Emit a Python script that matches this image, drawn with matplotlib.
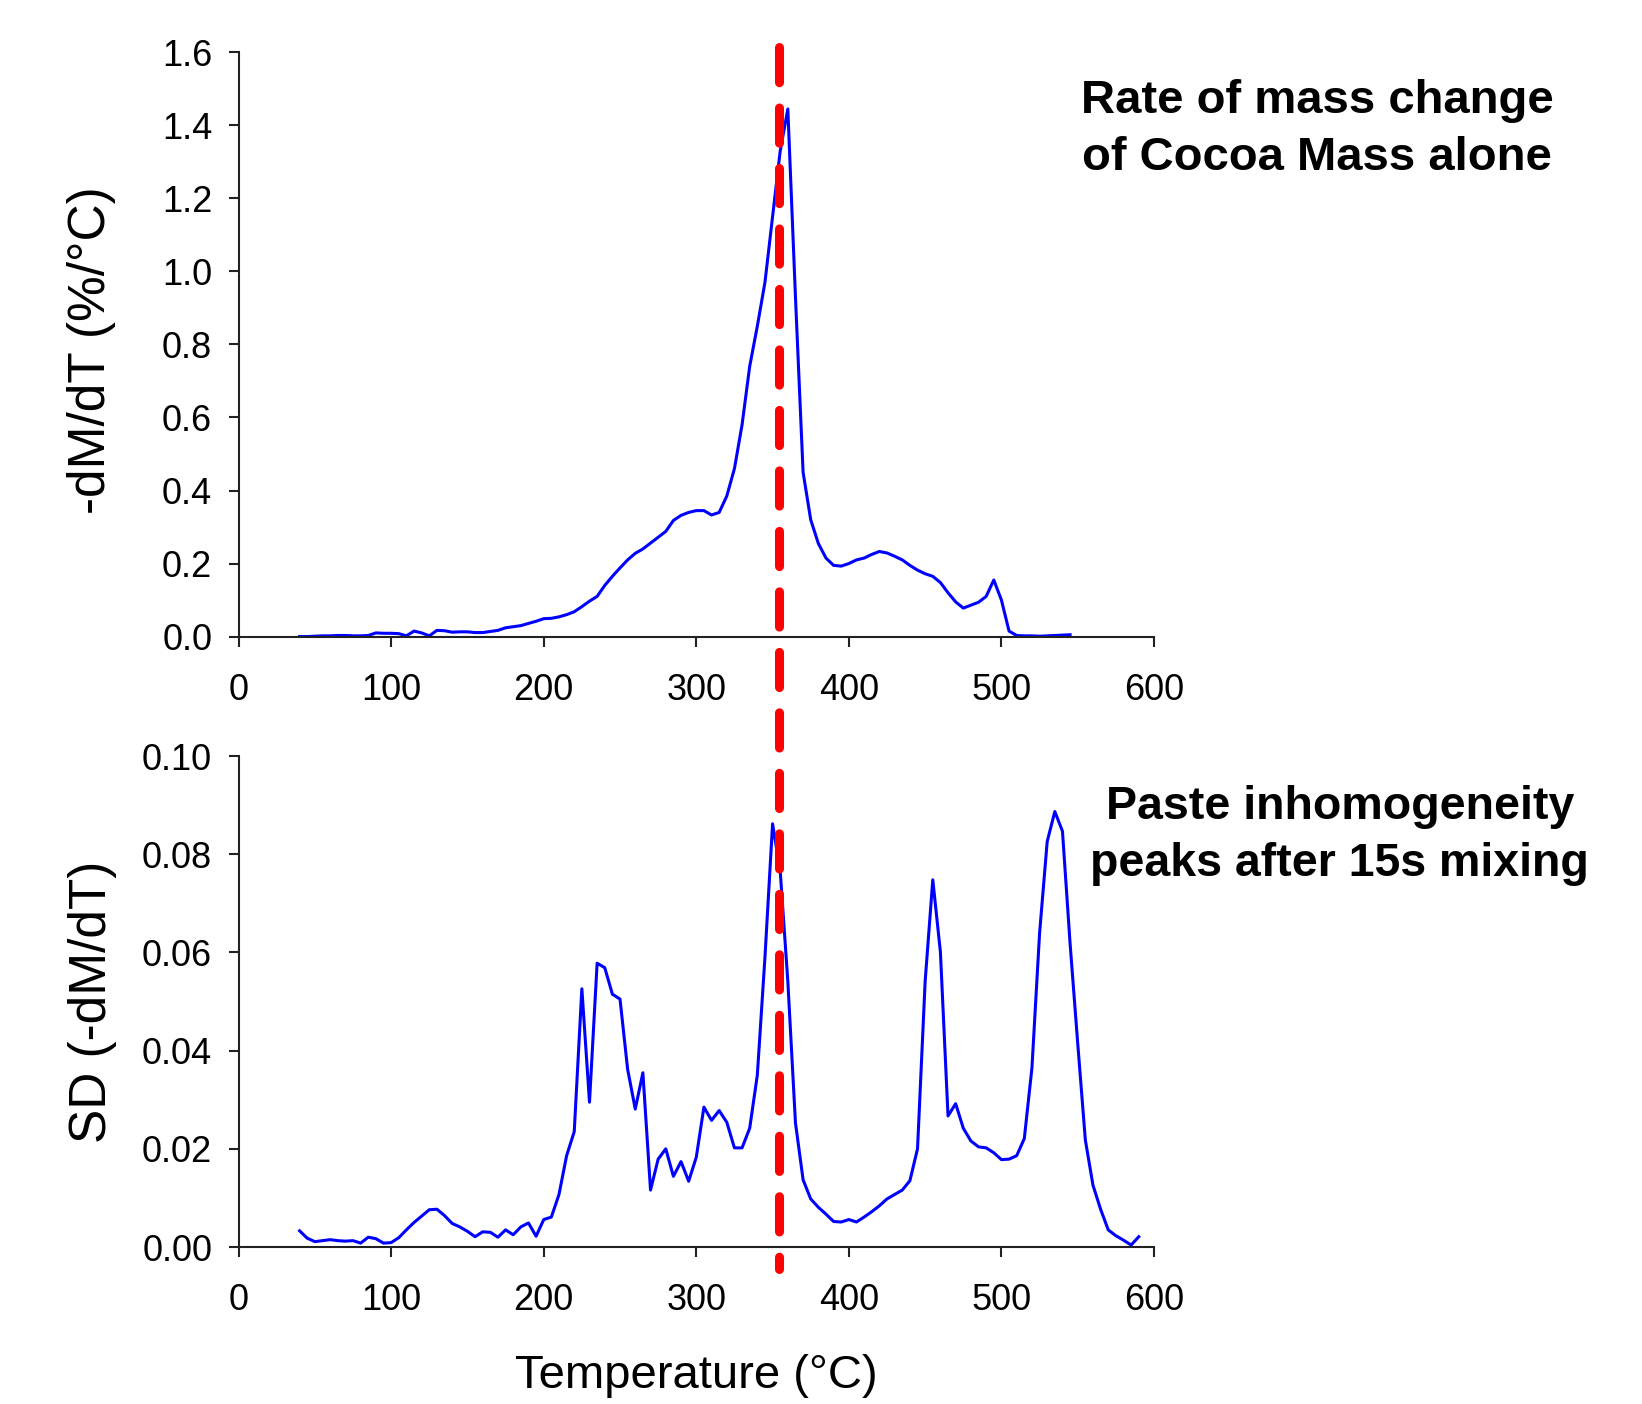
import numpy as np
import matplotlib
matplotlib.use("Agg")
import matplotlib.pyplot as plt
from matplotlib.lines import Line2D

plt.rcParams['font.family'] = ['Liberation Sans', 'DejaVu Sans']

# rate of mass change of cocoa mass alone (top panel)
temp_top = list(range(40, 550, 5))
rate_top = [0.000, 0.000, 0.001, 0.002, 0.002, 0.003, 0.003, 0.002, 0.002, 0.003,
            0.010, 0.009, 0.009, 0.008, 0.002, 0.015, 0.010, 0.002, 0.017, 0.016,
            0.012, 0.013, 0.013, 0.011, 0.011, 0.014, 0.017, 0.024, 0.027, 0.030,
            0.036, 0.042, 0.049, 0.050, 0.054, 0.060, 0.068, 0.082, 0.097, 0.110,
            0.140, 0.165, 0.188, 0.210, 0.228, 0.240, 0.256, 0.272, 0.288, 0.318,
            0.332, 0.340, 0.345, 0.345, 0.333, 0.340, 0.385, 0.460, 0.580, 0.740,
            0.850, 0.970, 1.150, 1.330, 1.445, 0.930, 0.450, 0.320, 0.255, 0.215,
            0.195, 0.193, 0.200, 0.210, 0.215, 0.225, 0.233, 0.229, 0.220, 0.210,
            0.195, 0.182, 0.172, 0.165, 0.148, 0.120, 0.095, 0.078, 0.086, 0.094,
            0.110, 0.155, 0.100, 0.015, 0.003, 0.002, 0.002, 0.001, 0.002, 0.003,
            0.004, 0.005]

# SD of -dM/dT, paste after 15 s mixing (bottom panel)
temp_bot = list(range(40, 595, 5))
sd_bot = [0.0033, 0.0018, 0.0011, 0.0013, 0.0015, 0.0013, 0.0012, 0.0013, 0.0008, 0.0020,
          0.0017, 0.0008, 0.0009, 0.0019, 0.0035, 0.0050, 0.0063, 0.0076, 0.0077, 0.0064,
          0.0048, 0.0041, 0.0032, 0.0021, 0.0031, 0.0030, 0.0020, 0.0035, 0.0025, 0.0041,
          0.0049, 0.0022, 0.0056, 0.0061, 0.0107, 0.0186, 0.0235, 0.0526, 0.0295, 0.0578,
          0.0569, 0.0515, 0.0505, 0.0362, 0.0281, 0.0355, 0.0116, 0.0179, 0.0200, 0.0144,
          0.0174, 0.0134, 0.0183, 0.0285, 0.0258, 0.0278, 0.0254, 0.0202, 0.0202, 0.0242,
          0.0350, 0.0590, 0.0862, 0.0766, 0.0541, 0.0253, 0.0137, 0.0098, 0.0081, 0.0067,
          0.0052, 0.0051, 0.0056, 0.0051, 0.0061, 0.0072, 0.0084, 0.0098, 0.0107, 0.0116,
          0.0135, 0.0200, 0.0541, 0.0748, 0.0601, 0.0267, 0.0292, 0.0242, 0.0216, 0.0204,
          0.0202, 0.0192, 0.0178, 0.0179, 0.0186, 0.0221, 0.0365, 0.0639, 0.0826, 0.0887,
          0.0847, 0.0618, 0.0415, 0.0218, 0.0126, 0.0077, 0.0035, 0.0023, 0.0014, 0.0004,
          0.0021]

marker_temp = 354
x_ticks = [0, 100, 200, 300, 400, 500, 600]
top_yticks = [0.0, 0.2, 0.4, 0.6, 0.8, 1.0, 1.2, 1.4, 1.6]
bot_yticks = [0.00, 0.02, 0.04, 0.06, 0.08, 0.10]

fig = plt.figure(figsize=(16.42, 14.04), dpi=100)
ax1 = fig.add_axes([0.1453, 0.5466, 0.5575, 0.4161])
ax2 = fig.add_axes([0.1453, 0.1118, 0.5575, 0.3497])

for ax in (ax1, ax2):
    ax.spines['top'].set_visible(False)
    ax.spines['right'].set_visible(False)
    for s in ('left', 'bottom'):
        ax.spines[s].set_linewidth(1.5)
        ax.spines[s].set_color('#222222')
    ax.tick_params(axis='both', direction='out', length=7, width=1.5,
                   color='#222222', labelsize=26)
    ax.tick_params(axis='x', pad=19)
    ax.tick_params(axis='y', pad=12)
    ax.set_xlim(0, 600)
    ax.set_xticks(x_ticks)

ax1.plot(temp_top, rate_top, color='#0000ff', linewidth=2.2)
ax1.set_ylim(0, 1.6)
ax1.set_yticks(top_yticks)
ax1.set_yticklabels([f'{v:.1f}' for v in top_yticks])
ax1.set_ylabel('-dM/dT (%/°C)', fontsize=37)
ax1.yaxis.set_label_coords(-0.134, 0.49)
ax1.text(1.178, 0.868, 'Rate of mass change\nof Cocoa Mass alone', transform=ax1.transAxes,
         ha='center', va='center', fontsize=34, fontweight='bold', linespacing=1.38)

ax2.plot(temp_bot, sd_bot, color='#0000ff', linewidth=2.2)
ax2.set_ylim(0, 0.10)
ax2.set_yticks(bot_yticks)
ax2.set_yticklabels([f'{v:.2f}' for v in bot_yticks])
ax2.set_ylabel('SD (-dM/dT)', fontsize=37)
ax2.yaxis.set_label_coords(-0.133, 0.5)
ax2.set_xlabel('Temperature (°C)', fontsize=34, labelpad=26)
ax2.text(1.203, 0.838, 'Paste inhomogeneity\npeaks after 15s mixing', transform=ax2.transAxes,
         ha='center', va='center', fontsize=33.5, fontweight='bold', linespacing=1.38)

# red dashed marker spanning both panels
inv = fig.transFigure.inverted()
p_top = inv.transform(ax1.transData.transform((marker_temp, 1.615)))
p_bot = inv.transform(ax2.transData.transform((marker_temp, -0.0045)))
marker = Line2D([p_top[0], p_bot[0]], [p_top[1], p_bot[1]], transform=fig.transFigure,
                color='#ff0000', linewidth=6.5, linestyle=(0, (3.9, 2.8)),
                dash_capstyle='round', zorder=5)
fig.add_artist(marker)

plt.savefig('out.png', dpi=100)
